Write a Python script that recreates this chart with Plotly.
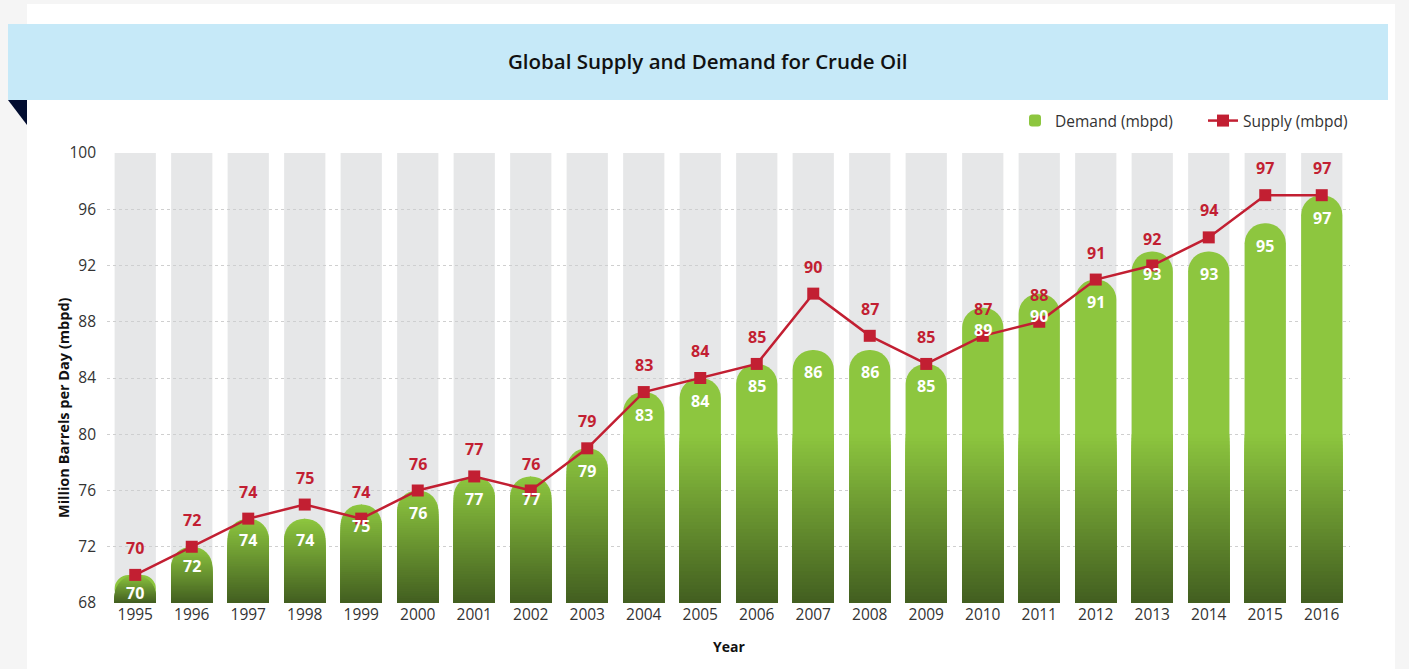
import plotly.graph_objects as go

# ---------------- data ----------------
years = ["1995", "1996", "1997", "1998", "1999", "2000", "2001", "2002", "2003", "2004", "2005",
         "2006", "2007", "2008", "2009", "2010", "2011", "2012", "2013", "2014", "2015", "2016"]
demand = [70, 72, 74, 74, 75, 76, 77, 77, 79, 83, 84, 85, 86, 86, 85, 89, 90, 91, 93, 93, 95, 97]
supply = [70, 72, 74, 75, 74, 76, 77, 76, 79, 83, 84, 85, 90, 87, 85, 87, 88, 91, 92, 94, 97, 97]
y_ticks = [68, 72, 76, 80, 84, 88, 92, 96, 100]

# ---------------- style ----------------
W, H = 1409, 669
ML, MR, MT, MB = 107, 59, 153, 66
PW, PH = W - ML - MR, H - MT - MB
FONT = "Open Sans"
GREEN = (141, 198, 63)
DARK = (66, 94, 32)
RED = "#c21f32"
BAR_W = 0.73
GRAD_TOP = 80
N_BANDS = 48

YMIN, YMAX = y_ticks[0], y_ticks[-1]
px_per_unit = PH / (YMAX - YMIN)
cat_px = PW / len(years)
r_units = (BAR_W * cat_px / 2) / px_per_unit


def px2x(px):
    return (px - ML) / PW


def px2y(py):
    return (H - MB - py) / PH


def mix(t):
    c = [round(DARK[j] + (GREEN[j] - DARK[j]) * t) for j in range(3)]
    return f"rgb({c[0]},{c[1]},{c[2]})"


fig = go.Figure()

# grey background columns (half transparent so the dotted grid shows through)
fig.add_trace(go.Bar(
    x=years, y=[YMAX - YMIN] * len(years), base=YMIN, width=BAR_W,
    marker=dict(color="rgba(205,207,209,0.5)", line=dict(width=0)),
    showlegend=False, hoverinfo="skip"))

# demand bars (rounded tops)
fig.add_trace(go.Bar(
    x=years, y=[v - YMIN for v in demand], base=YMIN, width=BAR_W,
    name="Demand (mbpd)",
    marker=dict(color=mix(1.0), line=dict(width=0), cornerradius="50%"),
    hoverinfo="skip"))

# vertical gradient on the lower part of each bar: stacked from the top band down,
# each band reaching the axis so no seams show
for k in range(N_BANDS - 1, -1, -1):
    tops, widths = [], []
    for v in demand:
        g = min(GRAD_TOP, v)
        t = YMIN + (k + 1) * (g - YMIN) / N_BANDS
        cap0 = v - r_units
        if t > cap0:
            f = min(1.0, (t - cap0) / r_units)
            w = BAR_W * max(0.0, 1 - f * f) ** 0.5
        else:
            w = BAR_W
        tops.append(t - YMIN)
        widths.append(w)
    fig.add_trace(go.Bar(
        x=years, y=tops, base=YMIN, width=widths,
        marker=dict(color=mix((k + 0.5) / N_BANDS), line=dict(width=0)),
        showlegend=False, hoverinfo="skip"))

# supply line
fig.add_trace(go.Scatter(
    x=years, y=supply, mode="lines+markers", name="Supply (mbpd)",
    line=dict(color=RED, width=2.5),
    marker=dict(symbol="square", size=12, color=RED),
    cliponaxis=False, hoverinfo="skip"))

annotations = []
for i, v in enumerate(supply):
    annotations.append(dict(x=i, y=v, xref="x", yref="y", text=str(v), showarrow=False,
                            xanchor="center", yanchor="middle",
                            yshift=27, font=dict(family=FONT, size=16, color=RED, weight="bold")))
for i, v in enumerate(demand):
    h_px = (v - YMIN) * px_per_unit
    shift = min(22.5, 16 + 0.06 * h_px)
    annotations.append(dict(x=i, y=v, xref="x", yref="y", text=str(v), showarrow=False,
                            xanchor="center", yanchor="middle",
                            yshift=-shift, font=dict(family=FONT, size=16, color="white", weight="bold")))

# title, axis titles
annotations.append(dict(x=px2x(707), y=px2y(61), xref="paper", yref="paper",
                        xanchor="center", yanchor="middle",
                        text="Global Supply and Demand for Crude Oil", showarrow=False,
                        font=dict(family=FONT, size=20.5, color="#111111", weight=600)))
annotations.append(dict(x=px2x(63), y=px2y(408), xref="paper", yref="paper",
                        xanchor="center", yanchor="middle",
                        text="Million Barrels per Day (mbpd)", textangle=-90, showarrow=False,
                        font=dict(family=FONT, size=14.5, color="#111111", weight="bold")))
annotations.append(dict(x=px2x(729), y=px2y(646), xref="paper", yref="paper",
                        xanchor="center", yanchor="middle",
                        text="Year", showarrow=False,
                        font=dict(family=FONT, size=14, color="#111111", weight="bold")))

shapes = [
    # white card
    dict(type="rect", xref="paper", yref="paper", x0=px2x(27), x1=px2x(1395),
         y0=px2y(H + 5), y1=px2y(4), fillcolor="white", line=dict(width=0), layer="below"),
    # title banner
    dict(type="rect", xref="paper", yref="paper", x0=px2x(8), x1=px2x(1388),
         y0=px2y(100), y1=px2y(24), fillcolor="#c6e9f8", line=dict(width=0), layer="below"),
    # fold triangle
    dict(type="path", xref="paper", yref="paper",
         path=f"M {px2x(8)},{px2y(100)} L {px2x(27)},{px2y(100)} L {px2x(27)},{px2y(125)} Z",
         fillcolor="#020d30", line=dict(width=0), layer="below"),
]

fig.update_layout(
    width=W, height=H,
    margin=dict(l=ML, r=MR, t=MT, b=MB, autoexpand=False),
    paper_bgcolor="#f5f5f5", plot_bgcolor="white",
    barmode="overlay",
    font=dict(family=FONT, size=15, color="#333333"),
    showlegend=True,
    legend=dict(orientation="h", x=px2x(1015), xanchor="left", y=px2y(121), yanchor="middle",
                entrywidth=143, entrywidthmode="pixels",
                font=dict(family=FONT, size=15.5, color="#333333"), bgcolor="rgba(0,0,0,0)",
                traceorder="normal"),
    annotations=annotations,
    shapes=shapes,
    hovermode=False,
)
fig.update_xaxes(type="category", range=[-0.5, len(years) - 0.5], autorange=False,
                 showgrid=False, showline=False, ticks="",
                 tickfont=dict(family=FONT, size=15.5, color="#333333"), fixedrange=True)
fig.update_yaxes(range=[YMIN, YMAX], tickvals=y_ticks, showgrid=True, gridcolor="#cfcfcf",
                 griddash="dot", gridwidth=1, zeroline=False, showline=False, ticks="",
                 ticklabelstandoff=10,
                 tickfont=dict(family=FONT, size=15.5, color="#333333"), fixedrange=True)

fig.write_html("out.html", config={"displayModeBar": False},
               post_script="document.body.style.margin='0px';")
